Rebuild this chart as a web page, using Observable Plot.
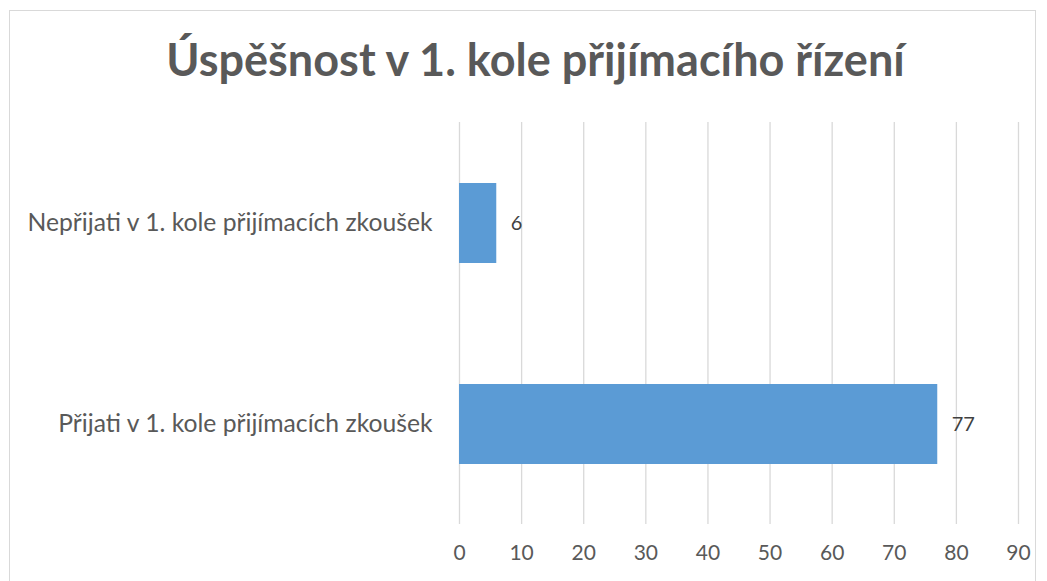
<!DOCTYPE html>
<html>
<head>
<meta charset="utf-8">
<script src="https://cdn.jsdelivr.net/npm/d3@7"></script>
<script src="https://cdn.jsdelivr.net/npm/@observablehq/plot@0.6"></script>
<style>
  body { margin: 0; background: #fff; font-family: Lato, "Open Sans", sans-serif; }
  #wrap { position: relative; width: 1047px; height: 581px; overflow: hidden; background: #fff; }
  #border { position: absolute; left: 9px; top: 10px; width: 1027px; height: 620px; border: 1px solid #d9d9d9; box-sizing: border-box; }
  #title { position: absolute; left: 0; top: 37px; width: 1071px; text-align: center; font: bold 45px/1 Lato, sans-serif; color: #595959; white-space: nowrap; }
  #chart { position: absolute; left: 0; top: 0; }
</style>
</head>
<body>
<div id="wrap">
  <div id="border"></div>
  <div id="title">Úspěšnost v 1. kole přijímacího řízení</div>
  <div id="chart"></div>
</div>
<script>
const categories = ["Nepřijati v 1. kole přijímacích zkoušek", "Přijati v 1. kole přijímacích zkoušek"];
const values = [6, 77];
const xTicks = [0, 10, 20, 30, 40, 50, 60, 70, 80, 90];

const data = categories.map((c, i) => ({category: c, value: values[i]}));

const chart = Plot.plot({
  width: 1047,
  height: 581,
  marginLeft: 459,
  marginRight: 29,
  marginTop: 122,
  marginBottom: 57,
  style: {background: "transparent", fontFamily: "Lato, sans-serif", color: "#595959", overflow: "visible"},
  x: {domain: [0, 90], ticks: xTicks},
  y: {domain: categories, range: [123, 525], paddingInner: 0.6, paddingOuter: 0.3},
  marks: [
    Plot.gridX(xTicks, {stroke: "#d9d9d9", strokeOpacity: 1, strokeWidth: 1.3}),
    Plot.barX(data, {x: "value", y: "category", fill: "#5B9BD5"}),
    Plot.text(data, {x: "value", y: "category", text: d => String(d.value), textAnchor: "start", dx: 14, fontSize: 20, fill: "#404040"}),
    Plot.axisX({ticks: xTicks, tickSize: 0, tickPadding: 21, fontSize: 21, label: null, color: "#595959"}),
    Plot.axisY({tickSize: 0, tickPadding: 27, fontSize: 24.7, label: null, color: "#595959"})
  ]
});
document.getElementById("chart").appendChild(chart);
</script>
</body>
</html>
